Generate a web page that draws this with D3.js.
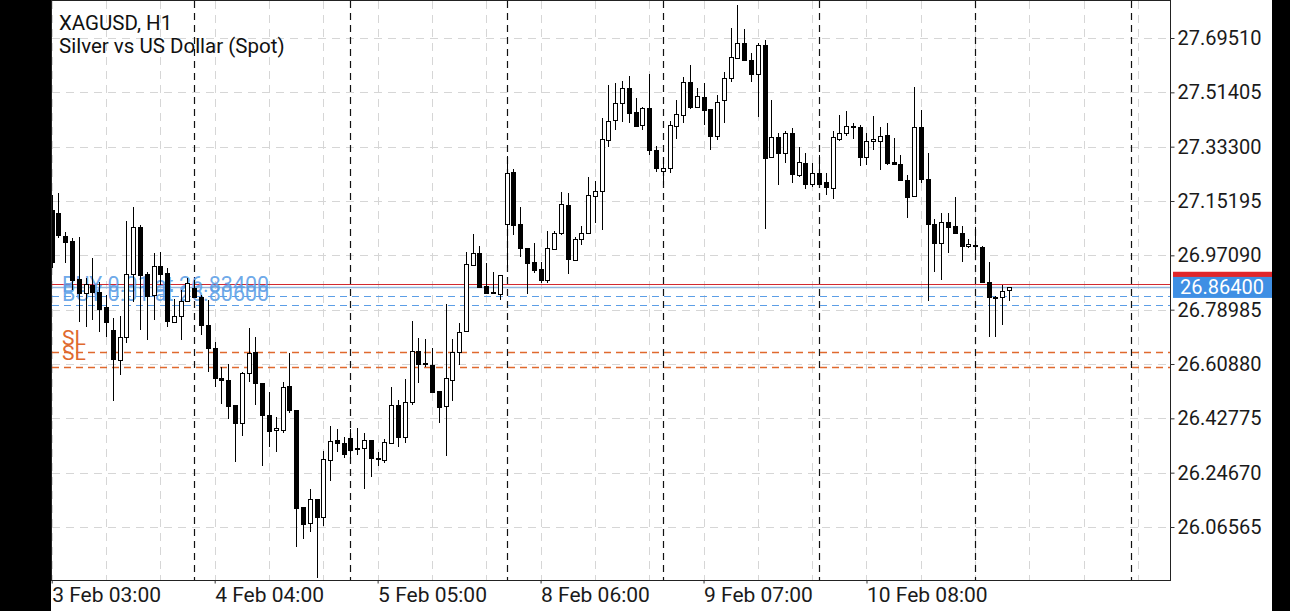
<!DOCTYPE html>
<html>
<head>
<meta charset="utf-8">
<script src="https://cdn.jsdelivr.net/npm/d3@7"></script>
<style>
  html, body { margin: 0; padding: 0; background: #fff; }
  svg { display: block; font-family: Roboto, "Noto Sans", sans-serif; }
</style>
</head>
<body>
<div id="chart"></div>
<script>
// XAGUSD H1 candles, index 0 = 3 Feb 03:00, one per hour (23 per day)
// each row: [open, high, low, close]
var ohlc = [
  [27.122, 27.172, 26.929, 26.949], [27.111, 27.179, 27.029, 27.039], [27.036, 27.048, 26.944, 27.016],
  [27.019, 27.029, 26.855, 26.889], [26.891, 27.033, 26.750, 26.844], [26.844, 26.894, 26.733, 26.874],
  [26.872, 26.963, 26.756, 26.850], [26.850, 26.883, 26.716, 26.794], [26.799, 26.839, 26.700, 26.750],
  [26.722, 26.763, 26.486, 26.624], [26.622, 26.770, 26.572, 26.700], [26.697, 27.085, 26.678, 26.908],
  [26.908, 27.133, 26.816, 27.066], [27.066, 27.072, 26.722, 26.905], [26.908, 26.916, 26.689, 26.836],
  [26.839, 26.978, 26.756, 26.935], [26.935, 26.983, 26.872, 26.908], [26.911, 26.928, 26.733, 26.750],
  [26.750, 26.825, 26.745, 26.770], [26.770, 26.855, 26.689, 26.819], [26.819, 26.894, 26.816, 26.878],
  [26.863, 26.889, 26.829, 26.833], [26.833, 26.839, 26.705, 26.739], [26.739, 26.822, 26.583, 26.661],
  [26.661, 26.683, 26.533, 26.561], [26.561, 26.600, 26.476, 26.553], [26.556, 26.609, 26.426, 26.470],
  [26.471, 26.471, 26.281, 26.411], [26.411, 26.582, 26.370, 26.578], [26.578, 26.730, 26.550, 26.646],
  [26.648, 26.700, 26.472, 26.545], [26.545, 26.545, 26.270, 26.439], [26.439, 26.517, 26.333, 26.387],
  [26.387, 26.433, 26.317, 26.395], [26.391, 26.550, 26.380, 26.533], [26.536, 26.645, 26.446, 26.456],
  [26.456, 26.456, 26.000, 26.128], [26.131, 26.131, 26.025, 26.075], [26.078, 26.191, 26.050, 26.158],
  [26.158, 26.158, 25.895, 26.097], [26.097, 26.319, 26.069, 26.291], [26.289, 26.403, 26.220, 26.352],
  [26.356, 26.391, 26.317, 26.345], [26.347, 26.367, 26.295, 26.311], [26.361, 26.391, 26.291, 26.320],
  [26.326, 26.395, 26.306, 26.329], [26.328, 26.380, 26.191, 26.356], [26.356, 26.356, 26.233, 26.295],
  [26.295, 26.317, 26.269, 26.296], [26.289, 26.358, 26.280, 26.348], [26.345, 26.531, 26.343, 26.472],
  [26.472, 26.489, 26.333, 26.367], [26.367, 26.558, 26.347, 26.483], [26.481, 26.753, 26.472, 26.652],
  [26.652, 26.695, 26.545, 26.608], [26.611, 26.691, 26.600, 26.610], [26.606, 26.661, 26.515, 26.517],
  [26.520, 26.520, 26.413, 26.467], [26.467, 26.809, 26.302, 26.561], [26.558, 26.691, 26.487, 26.650],
  [26.650, 26.744, 26.606, 26.717], [26.717, 26.983, 26.715, 26.941], [26.939, 27.041, 26.937, 26.980],
  [26.980, 27.002, 26.864, 26.866], [26.869, 26.946, 26.842, 26.846], [26.850, 26.917, 26.842, 26.849],
  [26.842, 26.907, 26.822, 26.905], [27.075, 27.302, 26.928, 27.246], [27.250, 27.258, 27.039, 27.075],
  [27.075, 27.133, 26.966, 26.994], [26.994, 26.996, 26.842, 26.944], [26.949, 27.013, 26.911, 26.922],
  [26.924, 26.950, 26.878, 26.886], [26.886, 27.053, 26.880, 26.994], [26.994, 27.053, 26.989, 27.046],
  [27.044, 27.181, 27.039, 27.141], [27.139, 27.178, 26.908, 26.959], [26.955, 27.033, 26.953, 27.024],
  [27.024, 27.070, 27.005, 27.044], [27.044, 27.231, 27.042, 27.172], [27.169, 27.219, 27.080, 27.186],
  [27.186, 27.430, 27.055, 27.359], [27.358, 27.538, 27.333, 27.420], [27.420, 27.546, 27.389, 27.478],
  [27.478, 27.553, 27.416, 27.528], [27.528, 27.568, 27.413, 27.444], [27.450, 27.494, 27.400, 27.403],
  [27.403, 27.466, 27.389, 27.461], [27.461, 27.575, 27.305, 27.320], [27.322, 27.335, 27.250, 27.261],
  [27.252, 27.300, 27.205, 27.261], [27.261, 27.419, 27.246, 27.405], [27.402, 27.489, 27.359, 27.442],
  [27.441, 27.564, 27.411, 27.550], [27.550, 27.605, 27.458, 27.466], [27.466, 27.528, 27.464, 27.502],
  [27.500, 27.544, 27.405, 27.458], [27.458, 27.460, 27.322, 27.369], [27.369, 27.505, 27.355, 27.483],
  [27.489, 27.583, 27.411, 27.563], [27.561, 27.727, 27.550, 27.631], [27.627, 27.805, 27.624, 27.677],
  [27.677, 27.724, 27.617, 27.619], [27.622, 27.644, 27.550, 27.575], [27.575, 27.680, 27.433, 27.672],
  [27.672, 27.688, 27.058, 27.294], [27.298, 27.489, 27.296, 27.364], [27.366, 27.380, 27.205, 27.313],
  [27.313, 27.386, 27.278, 27.378], [27.378, 27.394, 27.213, 27.242], [27.239, 27.333, 27.231, 27.283],
  [27.280, 27.313, 27.191, 27.211], [27.211, 27.280, 27.200, 27.246], [27.246, 27.305, 27.205, 27.211],
  [27.216, 27.244, 27.172, 27.198], [27.194, 27.386, 27.158, 27.364], [27.361, 27.439, 27.353, 27.380],
  [27.380, 27.453, 27.369, 27.402], [27.401, 27.411, 27.360, 27.400], [27.400, 27.405, 27.269, 27.300],
  [27.300, 27.378, 27.272, 27.352], [27.350, 27.435, 27.322, 27.358], [27.353, 27.400, 27.255, 27.369],
  [27.372, 27.413, 27.272, 27.278], [27.281, 27.361, 27.273, 27.275], [27.275, 27.305, 27.220, 27.222],
  [27.222, 27.239, 27.094, 27.166], [27.169, 27.533, 27.166, 27.398], [27.398, 27.455, 27.213, 27.224],
  [27.224, 27.311, 26.820, 27.075], [27.075, 27.091, 26.916, 27.013], [27.013, 27.113, 26.889, 27.083],
  [27.083, 27.113, 26.980, 27.066], [27.069, 27.164, 27.042, 27.046], [27.044, 27.069, 26.950, 27.002],
  [27.002, 27.024, 26.994, 27.008], [27.005, 27.066, 26.978, 27.003], [27.000, 27.002, 26.881, 26.883],
  [26.883, 26.950, 26.700, 26.833], [26.833, 26.836, 26.700, 26.831], [26.833, 26.872, 26.739, 26.852],
  [26.855, 26.866, 26.819, 26.864]
];

// bottom labels: [candle index, text]
var timeLabels = [[0, "3 Feb 03:00"], [24, "4 Feb 04:00"], [48, "5 Feb 05:00"],
                  [72, "8 Feb 06:00"], [96, "9 Feb 07:00"], [120, "10 Feb 08:00"]];
// first candle of each day (period separators)
var daySeps = [21, 44, 67, 90, 113, 136, 159];
var priceTicks = [27.69510, 27.51405, 27.33300, 27.15195, 26.97090,
                  26.78985, 26.60880, 26.42775, 26.24670, 26.06565];
var bid = 26.864, ask = 26.8745;
var buyOrders = [[26.834, "BUY 0.01 at 26.83400"], [26.806, "BUY 0.01 at 26.80600"]];
var stopLosses = [[26.650, "SL"], [26.600, "SL"]];

var W = 1290, H = 611;
var plot = {left: 52, right: 1170, top: 1, bottom: 580};

var svg = d3.select("#chart").append("svg")
    .attr("width", W).attr("height", H);
svg.append("rect").attr("width", W).attr("height", H).attr("fill", "#fff");

var x = d3.scaleLinear().domain([0, 164.7]).range([51.7, 1170]);
var y = d3.scaleLinear().domain([27.6951, 26.06565]).range([38, 527]);
function px(v) { return Math.round(v) + 0.5; }

svg.append("clipPath").attr("id", "clip").append("rect")
    .attr("x", plot.left).attr("y", plot.top)
    .attr("width", plot.right - plot.left).attr("height", plot.bottom - plot.top);
var g = svg.append("g").attr("clip-path", "url(#clip)");

// grid
g.selectAll(".hgrid").data(priceTicks).enter().append("line")
    .attr("x1", plot.left).attr("x2", plot.right)
    .attr("y1", d => px(y(d))).attr("y2", d => px(y(d)))
    .attr("stroke", "#d6d6d6").attr("stroke-dasharray", "8,6");
g.selectAll(".vgrid").data(d3.range(0, 165, 8)).enter().append("line")
    .attr("x1", d => px(x(d))).attr("x2", d => px(x(d)))
    .attr("y1", plot.top).attr("y2", plot.bottom)
    .attr("stroke", "#d6d6d6").attr("stroke-dasharray", "8,6");

// day separators
g.selectAll(".sep").data(daySeps).enter().append("line")
    .attr("x1", d => px(x(d))).attr("x2", d => px(x(d)))
    .attr("y1", plot.top).attr("y2", plot.bottom)
    .attr("stroke", "#111").attr("stroke-width", 1.2).attr("stroke-dasharray", "7,5");

// order lines and their labels
g.selectAll(".sl").data(stopLosses).enter().append("line")
    .attr("x1", plot.left).attr("x2", plot.right)
    .attr("y1", d => px(y(d[0]))).attr("y2", d => px(y(d[0])))
    .attr("stroke", "#e0692e").attr("stroke-width", 1.3).attr("stroke-dasharray", "7,5");
g.selectAll(".buy").data(buyOrders).enter().append("line")
    .attr("x1", plot.left).attr("x2", plot.right)
    .attr("y1", d => px(y(d[0]))).attr("y2", d => px(y(d[0])))
    .attr("stroke", "#5c9ee6").attr("stroke-width", 1.2).attr("stroke-dasharray", "7,5");
g.append("line").attr("x1", plot.left).attr("x2", plot.right)
    .attr("y1", px(y(ask))).attr("y2", px(y(ask)))
    .attr("stroke", "#d22a30").attr("stroke-width", 1.2);
g.append("line").attr("x1", plot.left).attr("x2", plot.right)
    .attr("y1", px(y(bid))).attr("y2", px(y(bid)))
    .attr("stroke", "#93b7dd").attr("stroke-width", 1.5);

g.selectAll(".sltxt").data(stopLosses).enter().append("text")
    .attr("x", 62).attr("y", d => y(d[0]) - 7)
    .attr("fill", "#e0692e").style("font-size", "21px").text(d => d[1]);
g.selectAll(".buytxt").data(buyOrders).enter().append("text")
    .attr("x", 62).attr("y", d => y(d[0]) - 4)
    .attr("fill", "#5c9ee6").attr("fill-opacity", 0.9)
    .style("font-size", "21.5px").text(d => d[1]);

// candles
var candle = g.selectAll(".candle").data(ohlc).enter().append("g");
candle.append("line")
    .attr("x1", (d, i) => px(x(i))).attr("x2", (d, i) => px(x(i)))
    .attr("y1", d => Math.round(y(d[1]))).attr("y2", d => Math.round(y(d[2])))
    .attr("stroke", "#000");
candle.append("rect")
    .attr("x", (d, i) => px(x(i)) - 2)
    .attr("y", d => px(y(Math.max(d[0], d[3]))))
    .attr("width", 4)
    .attr("height", d => Math.max(1, Math.round(Math.abs(y(d[0]) - y(d[3])))))
    .attr("fill", d => d[3] >= d[0] ? "#fff" : "#000")
    .attr("stroke", "#000");

// frame
svg.append("rect").attr("x", 51.5).attr("y", 0.5)
    .attr("width", plot.right - 51.5 + 0.5).attr("height", plot.bottom)
    .attr("fill", "none").attr("stroke", "#222");

// title
svg.append("text").attr("x", 59).attr("y", 30).style("font-size", "20.5px").attr("fill", "#111").text("XAGUSD, H1");
svg.append("text").attr("x", 59).attr("y", 53).style("font-size", "20.5px").attr("fill", "#111").text("Silver vs US Dollar (Spot)");

// price axis
var yAxis = svg.append("g").attr("transform", "translate(" + (plot.right + 0.5) + ",0)")
    .call(d3.axisRight(y).tickValues(priceTicks).tickFormat(d3.format(".5f")).tickSize(4).tickPadding(3));
yAxis.select(".domain").remove();
yAxis.selectAll("text").style("font-size", "20px").attr("fill", "#1a1a1a").attr("font-family", "Roboto");
yAxis.selectAll("line").attr("stroke", "#333");

// ask / bid price tags
svg.append("rect").attr("x", 1173).attr("y", y(ask) - 12.5).attr("width", 99).attr("height", 23).attr("fill", "#e0262b");
svg.append("rect").attr("x", 1173).attr("y", y(bid) - 10.5).attr("width", 99).attr("height", 21).attr("fill", "#3f8fe4");
svg.append("text").attr("x", 1180).attr("y", y(bid) + 7).style("font-size", "20px")
    .attr("fill", "#fff").text(d3.format(".5f")(bid));

// time axis
var xAxis = svg.append("g").attr("transform", "translate(0," + (plot.bottom + 0.5) + ")")
    .call(d3.axisBottom(x).tickValues(timeLabels.map(d => d[0]))
      .tickFormat((d, i) => timeLabels[i][1]).tickSize(3));
xAxis.select(".domain").remove();
xAxis.selectAll("text").attr("text-anchor", "start").attr("y", 21).attr("dy", null)
    .style("font-size", "21px").attr("fill", "#1a1a1a").attr("font-family", "Roboto");
xAxis.selectAll("line").attr("stroke", "#333");

// black side bars of the phone screen
svg.append("rect").attr("x", 0).attr("y", 0).attr("width", 51).attr("height", H).attr("fill", "#000");
svg.append("rect").attr("x", 1272).attr("y", 0).attr("width", 18).attr("height", H).attr("fill", "#000");
</script>
</body>
</html>
